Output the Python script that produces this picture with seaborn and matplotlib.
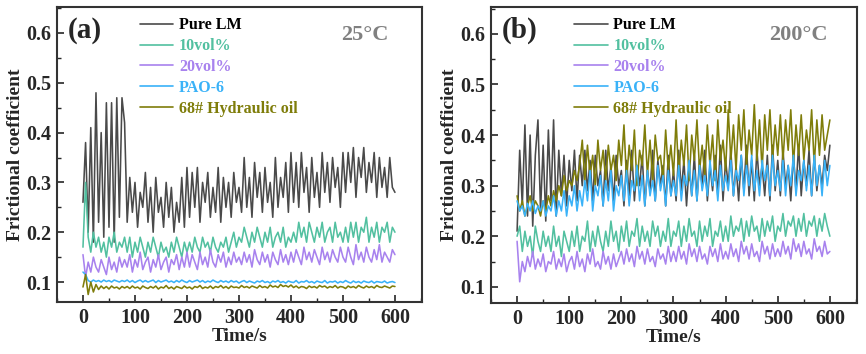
import numpy as np
import pandas as pd
import matplotlib
matplotlib.use("Agg")
import matplotlib.pyplot as plt
from matplotlib.ticker import MultipleLocator
from matplotlib.lines import Line2D
import seaborn as sns

# sample times (s), one reading every 5 s
time_s = np.arange(0, 601, 5)

labels = ["Pure LM", "10vol%", "20vol%", "PAO-6", "68# Hydraulic oil"]
colors = ["#4a4a4a", "#52c0a0", "#a882ee", "#3ab2f8", "#7f7d0a"]
text_colors = ["#000000", "#52c0a0", "#a882ee", "#3ab2f8", "#7f7d0a"]

# ---- panel (a), 25 C ----
pure_a = [0.26, 0.38, 0.20, 0.41, 0.18, 0.48, 0.22, 0.40, 0.19, 0.46, 0.21, 0.46, 0.18, 0.47, 0.23, 0.47, 0.42,
          0.22, 0.31, 0.24, 0.30, 0.21, 0.28, 0.25, 0.32, 0.22, 0.29, 0.20, 0.31, 0.24, 0.27, 0.21, 0.30,
          0.23, 0.29, 0.20, 0.26, 0.22, 0.31, 0.21, 0.33,
          0.23, 0.32, 0.25, 0.33, 0.22, 0.30, 0.26, 0.32, 0.23, 0.29, 0.24, 0.33, 0.22, 0.31, 0.25, 0.30,
          0.23, 0.32, 0.26, 0.29,
          0.24, 0.35, 0.25, 0.31, 0.23, 0.34, 0.27, 0.32, 0.24, 0.33, 0.26, 0.30, 0.23, 0.35, 0.25, 0.31,
          0.27, 0.34, 0.24, 0.36,
          0.26, 0.34, 0.25, 0.36, 0.28, 0.33, 0.24, 0.35, 0.27, 0.32, 0.25, 0.36, 0.28, 0.34, 0.26, 0.35,
          0.29, 0.33, 0.25, 0.36,
          0.28, 0.36, 0.30, 0.37, 0.27, 0.35, 0.31, 0.37, 0.28, 0.34, 0.30, 0.36, 0.27, 0.35, 0.29, 0.33,
          0.27, 0.35, 0.29, 0.28]
vol10_a = [0.17, 0.30, 0.19, 0.16, 0.20, 0.17, 0.19, 0.16, 0.18, 0.15, 0.19, 0.17, 0.20, 0.16, 0.18, 0.17, 0.19,
           0.16, 0.19, 0.15, 0.18, 0.16, 0.19, 0.17, 0.15, 0.18, 0.16, 0.19, 0.17, 0.15, 0.18, 0.16, 0.17,
           0.15, 0.18, 0.16, 0.19, 0.17, 0.15, 0.18, 0.16,
           0.18, 0.16, 0.19, 0.17, 0.16, 0.19, 0.17, 0.18, 0.16, 0.19, 0.17, 0.16, 0.18, 0.17, 0.19, 0.16,
           0.18, 0.20, 0.17, 0.19,
           0.18, 0.21, 0.19, 0.17, 0.20, 0.18, 0.21, 0.19, 0.17, 0.20, 0.18, 0.21, 0.17, 0.19, 0.20, 0.18,
           0.21, 0.17, 0.19, 0.18,
           0.20, 0.18, 0.22, 0.19, 0.21, 0.18, 0.22, 0.20, 0.18, 0.21, 0.19, 0.22, 0.18, 0.20, 0.21, 0.18,
           0.22, 0.19, 0.20, 0.18,
           0.21, 0.18, 0.22, 0.19, 0.22, 0.18, 0.21, 0.20, 0.23, 0.18, 0.21, 0.19, 0.22, 0.18, 0.21, 0.20,
           0.22, 0.18, 0.21, 0.20]
vol20_a = [0.155, 0.11, 0.14, 0.12, 0.15, 0.13, 0.12, 0.145, 0.13, 0.115, 0.15, 0.125, 0.14, 0.12, 0.15, 0.13, 0.145,
           0.13, 0.155, 0.12, 0.145, 0.13, 0.16, 0.125, 0.14, 0.15, 0.12, 0.145, 0.13, 0.155, 0.125, 0.14, 0.15,
           0.12, 0.145, 0.135, 0.155, 0.125, 0.15, 0.13, 0.16,
           0.13, 0.155, 0.14, 0.125, 0.16, 0.135, 0.15, 0.13, 0.165, 0.14, 0.13, 0.155, 0.14, 0.16, 0.13, 0.15,
           0.135, 0.16, 0.14, 0.15,
           0.135, 0.16, 0.14, 0.155, 0.13, 0.165, 0.145, 0.135, 0.16, 0.14, 0.155, 0.13, 0.16, 0.145, 0.135, 0.165,
           0.14, 0.155, 0.135, 0.16,
           0.14, 0.165, 0.15, 0.135, 0.17, 0.145, 0.16, 0.14, 0.165, 0.15, 0.135, 0.17, 0.145, 0.16, 0.14, 0.165,
           0.15, 0.14, 0.17, 0.15,
           0.14, 0.17, 0.15, 0.135, 0.175, 0.145, 0.16, 0.14, 0.17, 0.15, 0.14, 0.165, 0.145, 0.175, 0.14, 0.16,
           0.15, 0.14, 0.165, 0.155]
pao_a = [0.12, 0.115, 0.103, 0.1, 0.104, 0.101, 0.103, 0.1, 0.104, 0.101, 0.103, 0.1, 0.104, 0.102, 0.1, 0.103, 0.101,
         0.104, 0.1, 0.103, 0.099, 0.102, 0.104, 0.1, 0.103, 0.1, 0.102,
         0.104, 0.099, 0.103, 0.1, 0.102, 0.104, 0.1, 0.102, 0.099, 0.103,
         0.1, 0.104, 0.101, 0.099, 0.103, 0.1, 0.102, 0.104, 0.1, 0.103,
         0.099, 0.102, 0.1, 0.104, 0.101, 0.099, 0.103, 0.1, 0.102, 0.099,
         0.103, 0.1, 0.102, 0.098, 0.101, 0.103, 0.099, 0.102, 0.1, 0.098,
         0.102, 0.1, 0.103, 0.099, 0.101, 0.098, 0.102, 0.1, 0.103, 0.099,
         0.101, 0.098, 0.102, 0.1, 0.099, 0.103, 0.098, 0.101, 0.1, 0.103,
         0.099, 0.101, 0.098, 0.102, 0.1, 0.099, 0.103, 0.098, 0.101, 0.1,
         0.102, 0.098, 0.101, 0.099, 0.103, 0.1, 0.098, 0.102, 0.099, 0.101,
         0.098, 0.102, 0.1, 0.099, 0.102, 0.098, 0.101, 0.1, 0.099, 0.102,
         0.098, 0.1, 0.101, 0.099]
oil_a = [0.09, 0.115, 0.075, 0.1, 0.08, 0.095, 0.085, 0.092, 0.087, 0.091, 0.086, 0.092, 0.088, 0.09, 0.086, 0.091, 0.088,
         0.091, 0.087, 0.092, 0.088, 0.09, 0.086, 0.092, 0.089, 0.087, 0.091,
         0.088, 0.092, 0.086, 0.09, 0.088, 0.093, 0.087, 0.09, 0.086, 0.091,
         0.089, 0.087, 0.092, 0.088, 0.09, 0.086, 0.091, 0.089, 0.093, 0.087,
         0.09, 0.088, 0.092, 0.087, 0.091, 0.089, 0.093, 0.088, 0.091, 0.087,
         0.092, 0.089, 0.09, 0.088, 0.093, 0.089, 0.091, 0.088, 0.092, 0.09,
         0.088, 0.093, 0.089, 0.091, 0.088, 0.094, 0.09, 0.092, 0.089, 0.095,
         0.091, 0.093, 0.09, 0.094, 0.089, 0.092, 0.088, 0.091, 0.09, 0.087,
         0.092, 0.089, 0.091, 0.088, 0.093, 0.09, 0.092, 0.088, 0.091, 0.089,
         0.093, 0.088, 0.091, 0.09, 0.087, 0.092, 0.089, 0.091, 0.088, 0.093,
         0.09, 0.088, 0.092, 0.089, 0.091, 0.088, 0.093, 0.09, 0.089, 0.092,
         0.09, 0.088, 0.092, 0.091]

# ---- panel (b), 200 C ----
pure_b = [0.21, 0.37, 0.26, 0.42, 0.24, 0.40, 0.22, 0.36, 0.43, 0.25, 0.38, 0.23, 0.41, 0.27, 0.43, 0.24,
          0.37, 0.28, 0.36, 0.26, 0.35, 0.29, 0.37, 0.27, 0.36, 0.30, 0.37,
          0.29, 0.35, 0.27, 0.36, 0.30, 0.33, 0.26, 0.37, 0.29, 0.34,
          0.27, 0.36, 0.30, 0.33, 0.26, 0.35, 0.28, 0.37, 0.27, 0.34,
          0.30, 0.36, 0.26, 0.33, 0.29, 0.37, 0.27, 0.35, 0.30, 0.34,
          0.26, 0.36, 0.28, 0.33, 0.27, 0.37, 0.29, 0.35, 0.26, 0.34,
          0.28, 0.36, 0.27, 0.35, 0.30, 0.37, 0.27, 0.34, 0.29, 0.36,
          0.28, 0.38, 0.27, 0.35, 0.30, 0.37, 0.28, 0.34, 0.27, 0.36,
          0.29, 0.38, 0.28, 0.35, 0.27, 0.37, 0.30, 0.34, 0.28, 0.36,
          0.27, 0.38, 0.29, 0.35, 0.28, 0.37, 0.30, 0.34, 0.27, 0.36,
          0.29, 0.38, 0.28, 0.35, 0.30, 0.37, 0.28, 0.36, 0.29, 0.34,
          0.30, 0.36, 0.33, 0.38]
vol10_b = [0.20, 0.22, 0.17, 0.21, 0.18, 0.20, 0.16, 0.22, 0.19, 0.17, 0.21, 0.18, 0.20, 0.17, 0.22, 0.18,
           0.20, 0.16, 0.21, 0.19, 0.17,
           0.21, 0.18, 0.22, 0.17, 0.20, 0.19, 0.23, 0.17, 0.21, 0.18, 0.22, 0.19, 0.17, 0.21, 0.18, 0.23,
           0.19, 0.21, 0.17, 0.22,
           0.19, 0.23, 0.18, 0.21, 0.20, 0.235, 0.18, 0.22, 0.19, 0.21, 0.18, 0.23, 0.20, 0.22, 0.18, 0.21,
           0.19, 0.235, 0.18, 0.21,
           0.20, 0.23, 0.18, 0.22, 0.19, 0.235, 0.20, 0.21, 0.18, 0.23, 0.19, 0.22, 0.20, 0.235, 0.18, 0.21,
           0.20, 0.23, 0.19, 0.22,
           0.19, 0.24, 0.20, 0.22, 0.21, 0.235, 0.19, 0.23, 0.20, 0.24, 0.21, 0.22, 0.19, 0.235, 0.20, 0.23,
           0.21, 0.24, 0.19, 0.22,
           0.21, 0.245, 0.20, 0.23, 0.22, 0.24, 0.20, 0.235, 0.21, 0.245, 0.20, 0.23, 0.22, 0.24, 0.20, 0.235,
           0.21, 0.245, 0.22, 0.20]
vol20_b = [0.19, 0.11, 0.15, 0.13, 0.16, 0.14, 0.17, 0.135, 0.155, 0.14, 0.165, 0.13, 0.15, 0.145, 0.17, 0.135,
           0.155, 0.14, 0.165, 0.13, 0.15,
           0.16, 0.135, 0.17, 0.14, 0.155, 0.13, 0.165, 0.145, 0.175, 0.14, 0.15, 0.135, 0.17, 0.145, 0.16, 0.135,
           0.165, 0.14, 0.155, 0.17,
           0.145, 0.175, 0.15, 0.165, 0.14, 0.18, 0.155, 0.17, 0.145, 0.175, 0.15, 0.16, 0.14, 0.175, 0.155, 0.165,
           0.145, 0.18, 0.15, 0.17,
           0.15, 0.18, 0.155, 0.17, 0.145, 0.185, 0.16, 0.175, 0.15, 0.18, 0.155, 0.165, 0.145, 0.18, 0.16, 0.175,
           0.15, 0.185, 0.155, 0.17,
           0.155, 0.185, 0.16, 0.175, 0.15, 0.19, 0.165, 0.18, 0.155, 0.185, 0.16, 0.17, 0.15, 0.19, 0.165, 0.18,
           0.155, 0.185, 0.16, 0.175,
           0.16, 0.19, 0.165, 0.18, 0.155, 0.195, 0.17, 0.185, 0.16, 0.19, 0.165, 0.175, 0.155, 0.195, 0.17, 0.18,
           0.16, 0.19, 0.165, 0.17]
pao_b = [0.27, 0.25, 0.26, 0.24, 0.265, 0.25, 0.27, 0.245, 0.26, 0.25, 0.27, 0.24, 0.26,
         0.25, 0.28, 0.24, 0.27, 0.25, 0.29, 0.24, 0.28, 0.26, 0.30, 0.25, 0.29,
         0.26, 0.31, 0.27, 0.33, 0.25, 0.30, 0.28, 0.32, 0.26, 0.31, 0.27, 0.33, 0.25, 0.30, 0.28, 0.32,
         0.27, 0.33, 0.26, 0.31, 0.29, 0.34, 0.27, 0.32, 0.26, 0.33, 0.28, 0.31, 0.27, 0.34, 0.29, 0.32,
         0.26, 0.33, 0.28, 0.31,
         0.28, 0.34, 0.27, 0.32, 0.30, 0.35, 0.28, 0.33, 0.27, 0.34, 0.29, 0.32, 0.28, 0.35, 0.30, 0.33,
         0.27, 0.34, 0.29, 0.32,
         0.29, 0.35, 0.28, 0.33, 0.31, 0.36, 0.28, 0.34, 0.30, 0.36, 0.29, 0.33, 0.28, 0.35, 0.31, 0.34,
         0.28, 0.36, 0.30, 0.33,
         0.29, 0.35, 0.28, 0.34, 0.30, 0.36, 0.28, 0.33, 0.31, 0.35, 0.29, 0.34, 0.28, 0.36, 0.30, 0.34,
         0.28, 0.35, 0.30, 0.34]
oil_b = [0.28, 0.25, 0.27, 0.24, 0.26, 0.28, 0.25, 0.27, 0.26, 0.24, 0.27, 0.25, 0.28,
         0.26, 0.29, 0.27, 0.30, 0.28, 0.32, 0.29, 0.31, 0.30, 0.33, 0.31, 0.34,
         0.39, 0.31, 0.38, 0.32, 0.36, 0.30, 0.39, 0.33, 0.37, 0.31, 0.38, 0.33, 0.36, 0.31, 0.39, 0.34,
         0.42, 0.31, 0.38, 0.33, 0.41, 0.30, 0.37, 0.34, 0.42, 0.32, 0.39, 0.31, 0.40, 0.35, 0.36, 0.31,
         0.41, 0.33, 0.38, 0.32,
         0.43, 0.32, 0.39, 0.34, 0.42, 0.31, 0.40, 0.35, 0.43, 0.33, 0.38, 0.32, 0.42, 0.34, 0.40, 0.31,
         0.43, 0.35, 0.39, 0.33,
         0.45, 0.35, 0.42, 0.33, 0.44, 0.37, 0.45, 0.34, 0.41, 0.36, 0.46, 0.35, 0.43, 0.33, 0.44, 0.37,
         0.45, 0.35, 0.42, 0.36,
         0.44, 0.35, 0.43, 0.37, 0.45, 0.34, 0.42, 0.36, 0.44, 0.35, 0.41, 0.37, 0.45, 0.34, 0.43, 0.36,
         0.44, 0.37, 0.40, 0.43]

panels = [
    ("(a)", "25\u00b0C", [pure_a, vol10_a, vol20_a, pao_a, oil_a], [1, 2, 3, 4, 5], (0.06, 0.652), 0.907),
    ("(b)", "200\u00b0C", [pure_b, vol10_b, vol20_b, pao_b, oil_b], [1, 2, 3, 5, 4], (0.068, 0.653), 0.921),
]

sns.set_style("ticks")
plt.rcParams['font.family'] = ['Liberation Serif', 'DejaVu Serif']
plt.rcParams['font.weight'] = 'bold'
plt.rcParams['axes.labelweight'] = 'bold'

fig = plt.figure(figsize=(8.66, 3.54), dpi=100)
ax_a = fig.add_axes([0.0658, 0.147, 0.4215, 0.833])
ax_b = fig.add_axes([0.567, 0.144, 0.4226, 0.836])

for ax, (tag, temp, series, zorders, ylim, temp_x) in zip([ax_a, ax_b], panels):
    for vals, lab, col, z in zip(series, labels, colors, zorders):
        df = pd.DataFrame({"time": time_s, "cof": vals})
        sns.lineplot(data=df, x="time", y="cof", color=col, lw=1.15, ax=ax,
                     estimator=None, zorder=z)

    ax.set_xlim(-50, 652)
    ax.set_ylim(*ylim)
    ax.xaxis.set_major_locator(MultipleLocator(100))
    ax.xaxis.set_minor_locator(MultipleLocator(50))
    ax.yaxis.set_minor_locator(MultipleLocator(0.05))
    ax.set_yticks([0.1, 0.2, 0.3, 0.4, 0.5, 0.6])
    ax.tick_params(which='major', direction='in', length=5, width=1.2, labelsize=14.5, pad=4)
    ax.tick_params(which='minor', direction='in', length=3, width=1.0)
    for s in ax.spines.values():
        s.set_linewidth(1.5)
        s.set_color("#333333")
    ax.set_xlabel("Time/s", fontsize=14, labelpad=0)
    ax.set_ylabel("Frictional coefficient", fontsize=14, labelpad=2)

    ax.text(0.03, 0.92, tag, transform=ax.transAxes, fontsize=21, fontweight='bold', va='center')
    ax.text(temp_x, 0.905, temp, transform=ax.transAxes, fontsize=16, fontweight='bold',
            color="#808080", va='center', ha='right')

    handles = [Line2D([], [], color=c, lw=1.2) for c in colors]
    leg = ax.legend(handles, labels, loc='upper left', bbox_to_anchor=(0.227, 0.965),
                    frameon=False, borderpad=0, borderaxespad=0, handlelength=2.1,
                    handletextpad=0.35, labelspacing=0.3, prop={'size': 11.5, 'weight': 'bold'})
    for t, c in zip(leg.get_texts(), text_colors):
        t.set_color(c)

fig.savefig("out.png", dpi=100)
